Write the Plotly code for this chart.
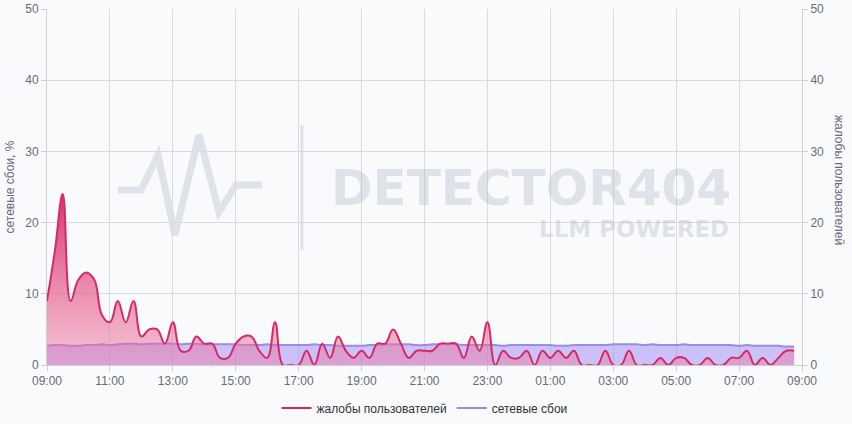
import pandas as pd
import plotly.graph_objects as go

# ---- data ----
start_time = "2024-01-01 09:00"
n_points = 96
times = pd.date_range(start_time, periods=n_points, freq="15min")

complaints = [
    9, 16, 24, 9, 12, 13, 12, 7, 6, 9, 6, 9, 4, 5, 5, 3,
    6, 2, 2, 4, 3, 3, 1, 1, 3, 4, 4, 2, 1, 6, 0, 0,
    0, 2, 0, 3, 1, 4, 2, 1, 2, 1, 3, 3, 5, 3, 1, 2,
    2, 2, 3, 3, 3, 1, 4, 2, 6, 0, 2, 1, 1, 2, 0, 2,
    1, 2, 1, 2, 0, 0, 0, 2, 0, 0, 2, 0, 0, 0, 1, 0,
    1, 1, 0, 0, 1, 0, 0, 1, 1, 2, 0, 1, 0, 1, 2, 2,
]

network_failures = [
    2.7, 2.8, 2.8, 2.7, 2.7, 2.8, 2.8, 2.9, 2.8, 2.9, 3.0, 3.0, 2.9, 3.0, 3.0, 3.0,
    3.0, 2.9, 3.0, 3.0, 2.9, 2.9, 2.9, 2.9, 2.9, 2.8, 2.8, 2.8, 2.9, 2.8, 2.8, 2.8,
    2.8, 2.8, 2.9, 2.8, 2.8, 2.7, 2.7, 2.7, 2.7, 2.8, 2.8, 2.9, 2.9, 2.9, 2.9, 2.8,
    2.8, 2.9, 2.9, 2.9, 2.9, 2.8, 2.8, 2.8, 2.8, 2.8, 2.7, 2.8, 2.8, 2.8, 2.8, 2.8,
    2.8, 2.7, 2.7, 2.8, 2.8, 2.8, 2.8, 2.8, 2.9, 2.9, 2.9, 2.9, 2.8, 2.9, 2.8, 2.8,
    2.8, 2.9, 2.8, 2.8, 2.8, 2.8, 2.8, 2.8, 2.7, 2.8, 2.7, 2.7, 2.7, 2.7, 2.6, 2.6,
]

name_complaints = "жалобы пользователей"
name_network = "сетевые сбои"
left_title = "сетевые сбои, %"
right_title = "жалобы пользователей"
y_ticks = [0, 10, 20, 30, 40, 50]

# ---- styling ----
FONT = "Liberation Sans, Arial, sans-serif"
BG = "#f9fafc"
GRID = "#dadbdf"
AXL = "#cfd0d5"
TICK = "#6a6b72"
PINK = "#d42a68"
LAV = "#9b8ae6"
WM = "rgba(175,180,198,0.35)"
SMOOTH = 1.2

L, R, T, B, W, H = 47, 802, 9, 365, 852, 424


def px(x):
    return (x - L) / (R - L)


def py(y):
    return (B - y) / (B - T)


fig = go.Figure()

# pink area (fill only)
fig.add_trace(go.Scatter(
    x=times, y=complaints, mode="lines", yaxis="y2",
    line=dict(width=0, shape="spline", smoothing=SMOOTH, color=PINK),
    fill="tozeroy",
    fillgradient=dict(type="vertical",
                      colorscale=[[0, "rgba(238,125,165,0.45)"], [1, "rgba(212,35,95,0.92)"]]),
    showlegend=False, hoverinfo="skip",
))
# lavender area
fig.add_trace(go.Scatter(
    x=times, y=network_failures, mode="lines",
    line=dict(width=0, shape="spline", smoothing=SMOOTH, color=LAV),
    fill="tozeroy", fillcolor="rgba(145,125,245,0.45)",
    showlegend=False, hoverinfo="skip",
))
# lavender line
fig.add_trace(go.Scatter(
    x=times, y=network_failures, mode="lines", name=name_network,
    line=dict(width=2, shape="spline", smoothing=SMOOTH, color=LAV),
    legendrank=2,
))
# pink line
fig.add_trace(go.Scatter(
    x=times, y=complaints, mode="lines", name=name_complaints, yaxis="y2",
    line=dict(width=2, shape="spline", smoothing=SMOOTH, color=PINK),
    legendrank=1,
))

# watermark
logo_pts = [(118, 190), (141, 190), (158, 155), (175, 235), (199, 135),
            (219, 212), (236, 185), (262, 185)]
path = "M " + " L ".join(f"{px(x):.4f},{py(y):.4f}" for x, y in logo_pts)
fig.add_shape(type="path", path=path, xref="paper", yref="paper",
              line=dict(color=WM, width=7), layer="below")
fig.add_shape(type="line", xref="paper", yref="paper",
              x0=px(302), x1=px(302), y0=py(125), y1=py(250),
              line=dict(color=WM, width=3), layer="below")
fig.add_annotation(text="<b>DETECTOR404</b>", xref="paper", yref="paper",
                   x=px(531), y=py(188), xanchor="center", yanchor="middle",
                   showarrow=False, font=dict(family="DejaVu Sans", size=50, color=WM))
fig.add_annotation(text="<b>LLM POWERED</b>", xref="paper", yref="paper",
                   x=px(731), y=py(229), xanchor="right", yanchor="middle",
                   showarrow=False, font=dict(family="DejaVu Sans", size=23, color=WM))

# right axis title (reads top to bottom)
fig.add_annotation(text=right_title, xref="paper", yref="paper",
                   x=px(839), y=py(180), xanchor="center", yanchor="middle",
                   textangle=90, showarrow=False,
                   font=dict(family=FONT, size=12, color=TICK))

axis_common = dict(
    range=[0, 50], tickvals=y_ticks, showgrid=True, gridcolor=GRID, gridwidth=1,
    zeroline=False, showline=True, linecolor=AXL, ticks="outside",
    ticklen=5, tickcolor=AXL, tickfont=dict(family=FONT, size=12, color=TICK),
    automargin=False,
)

fig.update_layout(
    width=W, height=H,
    margin=dict(l=L, r=W - R, t=T, b=H - B, autoexpand=False),
    paper_bgcolor=BG, plot_bgcolor=BG,
    font=dict(family=FONT, size=12, color=TICK),
    xaxis=dict(
        type="date",
        range=[times[0], times[0] + pd.Timedelta(hours=24)],
        dtick=2 * 3600 * 1000, tick0=times[0], tickformat="%H:%M",
        showgrid=True, gridcolor=GRID, zeroline=False,
        showline=True, linecolor=AXL, ticks="outside", ticklen=5,
        tickcolor=AXL, tickfont=dict(family=FONT, size=12, color=TICK),
        automargin=False,
    ),
    yaxis=dict(title=dict(text=left_title, font=dict(family=FONT, size=12, color=TICK),
                          standoff=8), **axis_common),
    yaxis2=dict(overlaying="y", side="right", **axis_common),
    legend=dict(orientation="h", x=0.5, xanchor="center",
                yref="container", y=(H - 408) / H, yanchor="middle",
                font=dict(family=FONT, size=12, color="#333"),
                bgcolor="rgba(0,0,0,0)", itemwidth=30),
    hovermode="x unified",
)

fig.write_html(
    "out.html",
    config={"displayModeBar": False},
    post_script="document.body.style.margin='0';document.body.style.overflow='hidden';"
                "document.body.style.background='%s';" % BG,
)
